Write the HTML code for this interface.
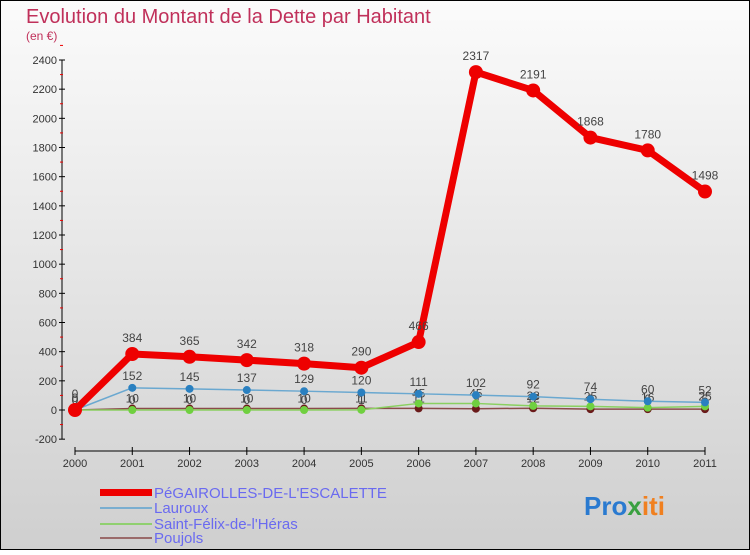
<!DOCTYPE html>
<html><head><meta charset="utf-8"><style>
body{margin:0;width:750px;height:550px;overflow:hidden;font-family:"Liberation Sans",sans-serif}
</style></head><body>
<svg id="c" width="750" height="550" xmlns="http://www.w3.org/2000/svg">
<defs><linearGradient id="bg" x1="0" y1="0" x2="0" y2="1"><stop offset="0" stop-color="#fbfbfb"/><stop offset="1" stop-color="#cfcfcf"/></linearGradient></defs>
<rect x="0.5" y="0.5" width="749" height="549" fill="url(#bg)" stroke="#000"/>
<text x="26" y="23" font-size="20" fill="#c0305a">Evolution du Montant de la Dette par Habitant</text>
<text x="26" y="40" font-size="12" fill="#c0305a">(en €)</text>
<g id="axes"></g><g id="series"></g>
<g font-size="15" fill="#6a6af0">
<rect x="100" y="489" width="52" height="7" fill="#e00"/>
<text x="154" y="498">PéGAIROLLES-DE-L'ESCALETTE</text>
<rect x="100" y="507" width="52" height="2" fill="#7aaed0"/>
<text x="154" y="513">Lauroux</text>
<rect x="100" y="523" width="52" height="2" fill="#90d070"/>
<text x="154" y="529">Saint-Félix-de-l'Héras</text>
<rect x="100" y="537" width="52" height="2" fill="#9a6a6a"/>
<text x="154" y="543">Poujols</text>
</g>
<text x="584" y="515" font-size="26" font-weight="bold"><tspan fill="#2a7ad0">Pro</tspan><tspan fill="#3aa040">x</tspan><tspan fill="#f08020">iti</tspan></text>
</svg>
<script>
const years=[2000,2001,2002,2003,2004,2005,2006,2007,2008,2009,2010,2011];
const yTicks=[-200,0,200,400,600,800,1000,1200,1400,1600,1800,2000,2200,2400];
const pegairolles=[0,384,365,342,318,290,466,2317,2191,1868,1780,1498];
const lauroux=[0,152,145,137,129,120,111,102,92,74,60,52];
const saintFelix=[0,0,0,0,0,1,45,45,28,25,16,25];
const poujols=[0,10,10,10,10,11,11,9,12,6,6,6];
const NS="http://www.w3.org/2000/svg";
const X=i=>75+i*(630/11);
const Y=v=>410-v*(350/2400);
function mk(t,a,p){const e=document.createElementNS(NS,t);for(const k in a)e.setAttribute(k,a[k]);p.appendChild(e);return e;}
const ax=document.getElementById('axes');
let yl=mk('line',{x1:62,y1:Y(2400),x2:62,y2:Y(-200),stroke:'#000'},ax);


yTicks.forEach(v=>{
 mk('line',{x1:59,x2:65,y1:Y(v),y2:Y(v),stroke:'#000'},ax);
 mk('line',{x1:60,x2:63,y1:Y(v+100),y2:Y(v+100),stroke:'#e00'},ax);
 const t=mk('text',{x:57,y:Y(v)+4,'font-size':11,'text-anchor':'end',fill:'#333'},ax);t.textContent=v;
 
 
});
let xl=mk('line',{x1:75,y1:451,x2:705,y2:451,stroke:'#000'},ax);


years.forEach((y,i)=>{
 mk('line',{x1:X(i),x2:X(i),y1:447,y2:455,stroke:'#000'},ax);
 const t=mk('text',{x:X(i),y:467,'font-size':11,'text-anchor':'middle',fill:'#333'},ax);t.textContent=y;
 
 
});
const sg=document.getElementById('series');
function draw(name,data,color,w,r,dot,labels,dy){
 const g=mk('g',{},sg);
 
 
 mk('polyline',{points:data.map((v,i)=>X(i)+','+Y(v)).join(' '),fill:'none',stroke:color,'stroke-width':w,'stroke-linejoin':'round'},g);
 data.forEach((v,i)=>{
  const c=mk('circle',{cx:X(i),cy:Y(v),r:r,fill:dot},g);
  
  
  if(labels){const t=mk('text',{x:X(i),y:Y(v)+dy,'font-size':12,'text-anchor':'middle',fill:'#444'},g);t.textContent=v;
   
   }
 });
}
draw('poujols',poujols,'#8a4a4a',1.5,4,'#6a1a1a',true,-6);
draw('saint-felix',saintFelix,'#8ad060',1.5,4,'#70d040',true,-6);
draw('lauroux',lauroux,'#6aa8d0',1.5,4,'#2a80c0',true,-8);
draw('pegairolles',pegairolles,'#e00',7,7,'#e00',true,-12);
</script>
</body></html>
